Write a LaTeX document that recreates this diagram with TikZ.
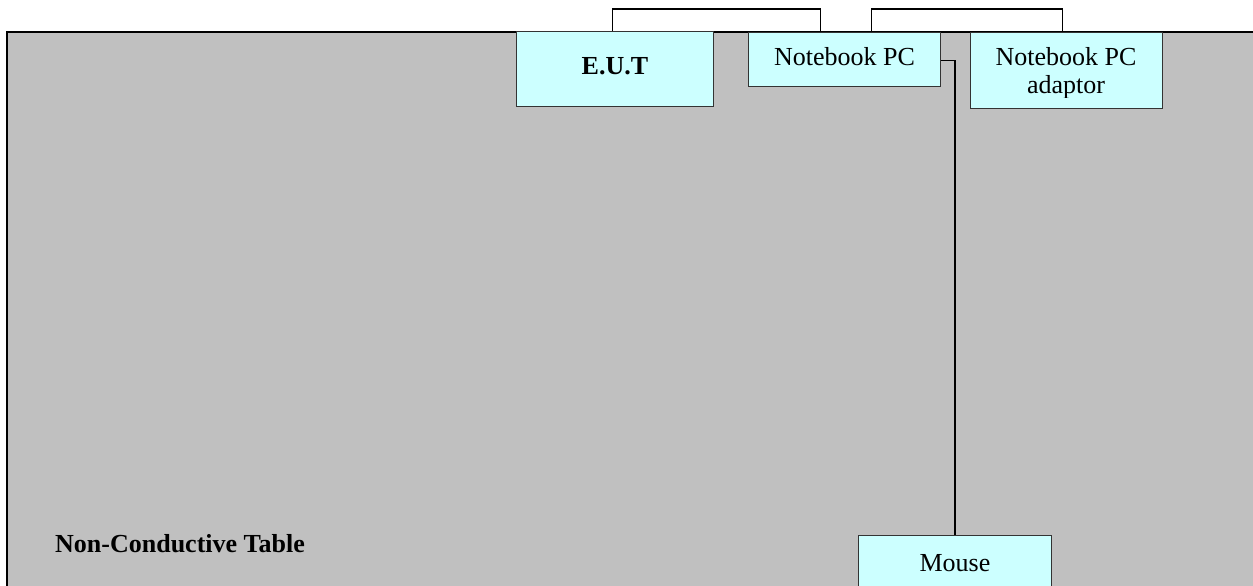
\documentclass[tikz,border=0pt]{standalone}
\usepackage{fontspec}
\setmainfont{Liberation Serif}
\definecolor{boxfill}{HTML}{CCFFFF}
\definecolor{tablegray}{HTML}{C0C0C0}
\begin{document}
\begin{tikzpicture}[x=1pt,y=-1pt,
  box/.style={draw=black!80, line width=0.9pt, fill=boxfill, inner sep=0pt, anchor=north west,
    font=\fontsize{26}{28}\selectfont, text height=18pt, text depth=6pt},
  wire/.style={draw=black, line width=1.4pt},
  lbl/.style={font=\fontsize{26}{28}\selectfont, inner sep=0pt}
]
\useasboundingbox (0,0) rectangle (1253,586);
\fill[white] (0,0) rectangle (1253,586);
\clip (0,0) rectangle (1253,586);
% table
\draw[line width=2pt, fill=tablegray] (7,32) rectangle (1320,660);
\node[lbl, font=\bfseries\fontsize{26}{28}\selectfont, anchor=base west] (tbl) at (55,552) {Non-Conductive Table};
% boxes
\node[box, minimum width=197pt, minimum height=75pt] (eut) at (516,31) {\bfseries E.U.T};
\node[box, minimum width=192pt, minimum height=54pt] (nb) at (748,32) {Notebook PC};
\node[box, minimum width=192pt, minimum height=76pt] (ad) at (970,32) {};
\begin{scope}
  \clip (970,32) rectangle (1162,97);
  \node[lbl, align=center, anchor=base] (adtext) at (1066,93) {Notebook PC\\adaptor};
\end{scope}
\node[box, minimum width=193pt, minimum height=60pt] (mouse) at (858,535) {Mouse};
% connectors
\draw[wire] ([xshift=-2.5pt]eut.north) -- ++(0,-22) -| ([xshift=-24pt]nb.north);
\draw[wire] ([xshift=27pt]nb.north) -- ++(0,-23) -| ([xshift=-4pt]ad.north);
\draw[wire] ([yshift=-1pt]nb.east) -| (mouse.north);
\end{tikzpicture}
\end{document}
